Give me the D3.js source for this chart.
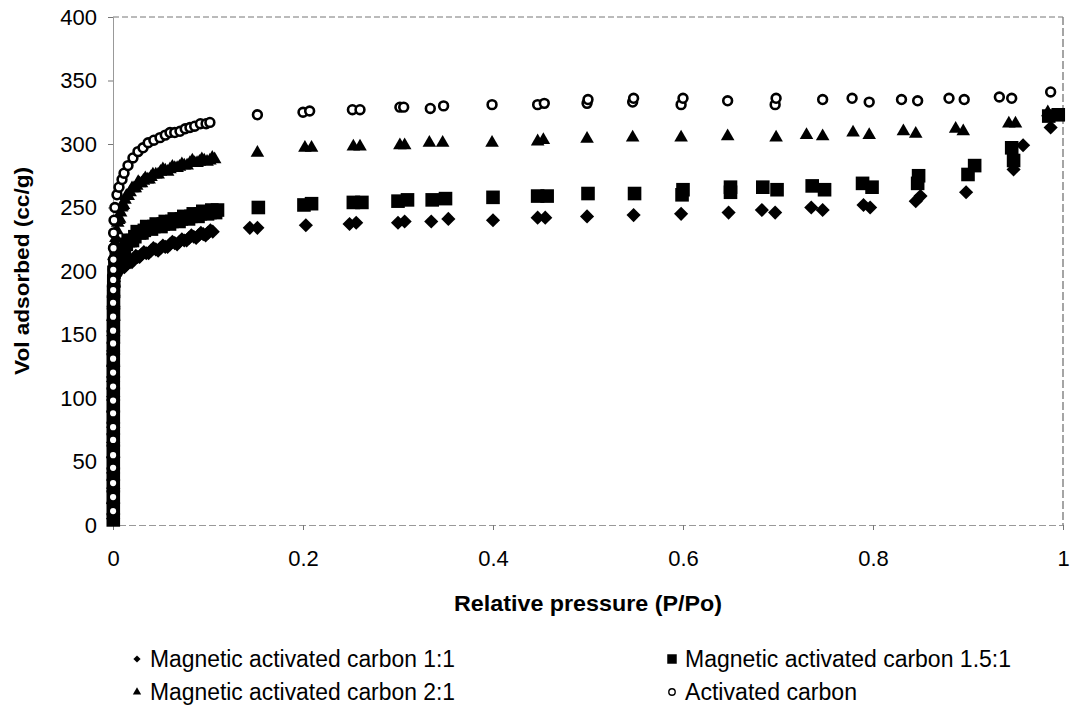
<!DOCTYPE html>
<html>
<head>
<meta charset="utf-8">
<script src="https://cdn.jsdelivr.net/npm/d3@7"></script>
<style>
  body { margin: 0; background: #fff; }
  text { font-family: "Liberation Sans", Arial, sans-serif; fill: #000; }
</style>
</head>
<body>
<div id="graphe"></div>
<script>
//----------------------------------------------------------------
// donnees : [pression relative, volume adsorbe]
//----------------------------------------------------------------
var serieNoms = ["Magnetic activated carbon 1:1", "Magnetic activated carbon 1.5:1",
                 "Magnetic activated carbon 2:1", "Activated carbon"];

var mac11 = [
  [0.0002, 5], [0.0002, 17], [0.0003, 29], [0.0002, 41], [0.0003, 53], [0.0002, 65],
  [0.0003, 77], [0.0002, 89], [0.0003, 101], [0.0002, 113], [0.0003, 125], [0.0003, 137],
  [0.0004, 149], [0.0004, 161], [0.0005, 172], [0.0006, 181], [0.0008, 188],
  [0.001, 192], [0.002, 196], [0.003, 197], [0.0045, 200], [0.006, 200], [0.008, 203],
  [0.01, 203], [0.012, 203], [0.014, 205], [0.016, 208], [0.018, 207], [0.02, 207],
  [0.022, 209], [0.024, 212], [0.026, 211], [0.028, 211], [0.03, 213], [0.0325, 215],
  [0.035, 214], [0.0375, 214], [0.04, 216], [0.0425, 218], [0.045, 217], [0.0475, 216],
  [0.05, 218], [0.0525, 220], [0.055, 219], [0.0575, 219], [0.06, 221], [0.0625, 223],
  [0.065, 222], [0.0675, 221], [0.07, 223], [0.0725, 225], [0.075, 224], [0.0775, 224],
  [0.08, 226], [0.0825, 228], [0.085, 227], [0.0875, 226], [0.09, 228], [0.0925, 230],
  [0.095, 229], [0.0975, 228], [0.1, 230], [0.1025, 232], [0.105, 231],
  [0.144, 234], [0.152, 234], [0.203, 236], [0.249, 237], [0.256, 238], [0.3, 238],
  [0.307, 239], [0.335, 239], [0.353, 241], [0.4, 240], [0.447, 242], [0.455, 242],
  [0.499, 243], [0.548, 244], [0.598, 245], [0.648, 246], [0.683, 248], [0.697, 246],
  [0.735, 250], [0.747, 248], [0.79, 252], [0.797, 250], [0.845, 255], [0.85, 259],
  [0.898, 262], [0.948, 280], [0.958, 299], [0.987, 313]
];

var mac151 = [
  [0.0003, 4], [0.0003, 13], [0.0003, 22], [0.0003, 31], [0.0003, 40], [0.0003, 49],
  [0.0003, 58], [0.0003, 67], [0.0003, 76], [0.0003, 85], [0.0003, 94], [0.0003, 103],
  [0.0003, 112], [0.0003, 121], [0.0003, 130], [0.0003, 139], [0.0004, 148], [0.0004, 157],
  [0.0005, 166], [0.0005, 175], [0.0006, 184], [0.0008, 192], [0.001, 199],
  [0.002, 205], [0.0035, 210], [0.005, 211], [0.0065, 211], [0.008, 214], [0.009, 217],
  [0.0105, 217], [0.012, 217], [0.014, 221], [0.016, 224], [0.018, 224], [0.0205, 224],
  [0.023, 227], [0.0255, 231], [0.028, 230], [0.0305, 230], [0.033, 232], [0.0355, 235],
  [0.038, 234], [0.0405, 233], [0.043, 235], [0.0455, 237], [0.048, 236], [0.0505, 235],
  [0.053, 237], [0.055, 239], [0.057, 238], [0.0595, 237], [0.062, 239], [0.0645, 241],
  [0.067, 240], [0.0695, 239], [0.072, 241], [0.0745, 243], [0.077, 242], [0.0795, 241],
  [0.082, 243], [0.0845, 245], [0.087, 244], [0.0895, 243], [0.092, 245], [0.0945, 247],
  [0.097, 246], [0.0995, 245], [0.102, 246], [0.104, 248], [0.106, 247], [0.108, 246],
  [0.11, 248],
  [0.153, 250], [0.201, 252], [0.209, 253], [0.253, 254], [0.262, 254], [0.3, 255],
  [0.31, 256], [0.336, 256], [0.35, 257], [0.4, 258], [0.447, 259], [0.457, 259],
  [0.5, 261], [0.549, 261], [0.599, 260], [0.6, 264], [0.65, 262], [0.65, 266],
  [0.684, 266], [0.699, 264], [0.736, 267], [0.749, 264], [0.789, 269], [0.799, 266],
  [0.847, 269], [0.848, 275], [0.9, 276], [0.907, 283], [0.946, 297], [0.948, 287],
  [0.985, 322], [0.995, 323]
];

var mac21 = [
  [0.0002, 8], [0.0002, 20], [0.0002, 32], [0.0002, 44], [0.0002, 56], [0.0002, 68],
  [0.0002, 80], [0.0002, 92], [0.0002, 104], [0.0002, 116], [0.0002, 128], [0.0003, 140],
  [0.0003, 152], [0.0004, 164], [0.0005, 176], [0.0006, 188], [0.0008, 200],
  [0.001, 212], [0.002, 222], [0.003, 226], [0.004, 232], [0.005, 238], [0.006, 240],
  [0.007, 241], [0.008, 246], [0.009, 250], [0.01, 251], [0.011, 252], [0.0126, 256],
  [0.014, 259], [0.015, 259], [0.016, 259], [0.018, 262], [0.02, 265], [0.022, 265],
  [0.0235, 265], [0.025, 267], [0.0265, 270], [0.028, 269], [0.03, 269], [0.032, 271],
  [0.034, 273], [0.036, 272], [0.038, 272], [0.04, 274], [0.042, 276], [0.045, 276],
  [0.0475, 276], [0.05, 278], [0.0525, 280], [0.055, 279], [0.0575, 278], [0.06, 280],
  [0.0625, 282], [0.065, 281], [0.0675, 281], [0.07, 282], [0.0725, 284], [0.075, 283],
  [0.078, 283], [0.081, 285], [0.0835, 287], [0.086, 285], [0.0885, 285], [0.091, 286],
  [0.0935, 288], [0.096, 287], [0.099, 286], [0.102, 287], [0.1045, 289], [0.107, 288],
  [0.152, 293], [0.202, 297], [0.209, 297], [0.253, 298], [0.26, 298], [0.302, 299],
  [0.307, 299], [0.333, 301], [0.347, 301], [0.399, 301], [0.447, 302], [0.453, 303],
  [0.499, 304], [0.547, 305], [0.598, 305], [0.647, 306], [0.698, 305], [0.73, 307],
  [0.747, 306], [0.779, 309], [0.796, 307], [0.832, 310], [0.845, 308], [0.887, 312],
  [0.895, 310], [0.943, 316], [0.95, 316], [0.984, 325]
];

var charbonActif = [
  [0.0001, 11], [0.0001, 22], [0.0001, 33], [0.0001, 45], [0.0001, 55], [0.0001, 67],
  [0.0001, 77], [0.0001, 88], [0.0001, 98], [0.0001, 109], [0.0001, 120], [0.0001, 131],
  [0.0001, 143], [0.0001, 153], [0.0001, 164], [0.0001, 175], [0.0002, 185], [0.0002, 193],
  [0.0003, 201], [0.0004, 209], [0.0005, 218], [0.0007, 230], [0.0011, 240], [0.002, 250],
  [0.0042, 260], [0.0063, 266], [0.0095, 272], [0.0116, 277], [0.0158, 283], [0.021, 289],
  [0.0263, 294], [0.0316, 297], [0.037, 301], [0.043, 303], [0.0495, 305], [0.055, 307],
  [0.06, 309], [0.065, 309], [0.0705, 310], [0.076, 312], [0.081, 313], [0.086, 314],
  [0.092, 316], [0.098, 316], [0.102, 317],
  [0.152, 323], [0.2, 325], [0.207, 326], [0.252, 327], [0.26, 327], [0.302, 329],
  [0.306, 329], [0.334, 328], [0.348, 330], [0.399, 331], [0.447, 331], [0.454, 332],
  [0.499, 332], [0.5, 335], [0.547, 333], [0.548, 336], [0.598, 331], [0.6, 336],
  [0.647, 334], [0.697, 331], [0.698, 336], [0.747, 335], [0.778, 336], [0.796, 333],
  [0.83, 335], [0.847, 334], [0.88, 336], [0.896, 335], [0.933, 337], [0.946, 336],
  [0.987, 341]
];

var ticksX = [0, 0.2, 0.4, 0.6, 0.8, 1];
var ticksY = [0, 50, 100, 150, 200, 250, 300, 350, 400];

//----------------------------------------------------------------
// svg et echelles
//----------------------------------------------------------------
var largeur = 1071, hauteur = 708;
var svg = d3.select("#graphe")
  .append("svg")
  .attr("width", largeur)
  .attr("height", hauteur);

var x = d3.scaleLinear().domain([0, 1]).range([113, 1063]);
var y = d3.scaleLinear().domain([0, 400]).range([525, 17]);

//----------------------------------------------------------------
// cadre et axes
//----------------------------------------------------------------
svg.append("line")
  .attr("x1", x(0)).attr("x2", x(1)).attr("y1", y(400)).attr("y2", y(400))
  .attr("stroke", "#777").attr("stroke-width", 1).attr("stroke-dasharray", "6,3");
svg.append("line")
  .attr("x1", x(1)).attr("x2", x(1)).attr("y1", y(400)).attr("y2", y(0))
  .attr("stroke", "#888").attr("stroke-width", 1.5).attr("stroke-dasharray", "8,3");

var axeX = svg.append("g")
  .attr("transform", "translate(0," + y(0) + ")")
  .call(d3.axisBottom(x).tickValues(ticksX).tickSize(5).tickPadding(20)
        .tickFormat(function(d){ return d == 0 || d == 1 ? d : d3.format(".1f")(d); }));
axeX.select(".domain").attr("stroke", "#999").attr("stroke-dasharray", "7,3");
axeX.selectAll(".tick line").attr("stroke", "#777");
axeX.selectAll("text").attr("font-size", "22px").attr("fill", "#000");

var axeY = svg.append("g")
  .attr("transform", "translate(" + x(0) + ",0)")
  .call(d3.axisLeft(y).tickValues(ticksY).tickSize(5).tickPadding(11));
axeY.select(".domain").attr("stroke", "#999");
axeY.selectAll(".tick line").attr("stroke", "#777");
axeY.selectAll("text").attr("font-size", "22px").attr("fill", "#000");

svg.selectAll(".tick text").style("font-family", "'Liberation Sans', Arial, sans-serif");

//----------------------------------------------------------------
// titres des axes
//----------------------------------------------------------------
svg.append("text")
  .attr("x", 588).attr("y", 611)
  .attr("text-anchor", "middle")
  .attr("font-size", "22px").attr("font-weight", "bold")
  .attr("textLength", 268).attr("lengthAdjust", "spacingAndGlyphs")
  .text("Relative pressure (P/Po)");

svg.append("text")
  .attr("transform", "translate(29,271) rotate(-90)")
  .attr("text-anchor", "middle")
  .attr("font-size", "21px").attr("font-weight", "bold")
  .attr("textLength", 208).attr("lengthAdjust", "spacingAndGlyphs")
  .text("Vol adsorbed (cc/g)");

//----------------------------------------------------------------
// points
//----------------------------------------------------------------
var losange = d3.symbol().type(d3.symbolSquare).size(100);
var carre = d3.symbol().type(d3.symbolSquare).size(185);
var triangle = d3.symbol().type(d3.symbolTriangle).size(80);

function dessinerSerie(data, forme, angle){
  svg.append("g").selectAll("path")
    .data(data)
    .enter()
    .append("path")
    .attr("d", forme)
    .attr("fill", "#000")
    .attr("transform", function(d){
      return "translate(" + x(d[0]) + "," + y(d[1]) + ") rotate(" + angle + ")";
    });
}

dessinerSerie(mac11, losange, 45);
dessinerSerie(mac151, carre, 0);
dessinerSerie(mac21, triangle, 0);

svg.append("g").selectAll("circle")
  .data(charbonActif)
  .enter()
  .append("circle")
  .attr("cx", function(d){ return x(d[0]); })
  .attr("cy", function(d){ return y(d[1]); })
  .attr("r", 4.4)
  .attr("fill", "#fff")
  .attr("stroke", "#000")
  .attr("stroke-width", 2.6);

//----------------------------------------------------------------
// legende
//----------------------------------------------------------------
var legende = [
  { nom: serieNoms[0], px: 137, py: 659, long: 305 },
  { nom: serieNoms[1], px: 672, py: 659, long: 326 },
  { nom: serieNoms[2], px: 137, py: 692, long: 305 },
  { nom: serieNoms[3], px: 672, py: 692, long: 172 }
];

var leg = svg.selectAll(".legende")
  .data(legende)
  .enter()
  .append("g")
  .attr("class", "legende");

leg.append("text")
  .attr("x", function(d){ return d.px + 13; })
  .attr("y", function(d){ return d.py + 8; })
  .attr("font-size", "23px")
  .attr("textLength", function(d){ return d.long; })
  .attr("lengthAdjust", "spacingAndGlyphs")
  .text(function(d){ return d.nom; });

svg.append("path")
  .attr("d", d3.symbol().type(d3.symbolSquare).size(26)())
  .attr("transform", "translate(137,659) rotate(45)");
svg.append("path")
  .attr("d", d3.symbol().type(d3.symbolSquare).size(90)())
  .attr("transform", "translate(672,659)");
svg.append("path")
  .attr("d", d3.symbol().type(d3.symbolTriangle).size(30)())
  .attr("transform", "translate(137,692)");
svg.append("circle")
  .attr("cx", 672).attr("cy", 692).attr("r", 3.2)
  .attr("fill", "#fff").attr("stroke", "#000").attr("stroke-width", 1.4);
</script>
</body>
</html>
